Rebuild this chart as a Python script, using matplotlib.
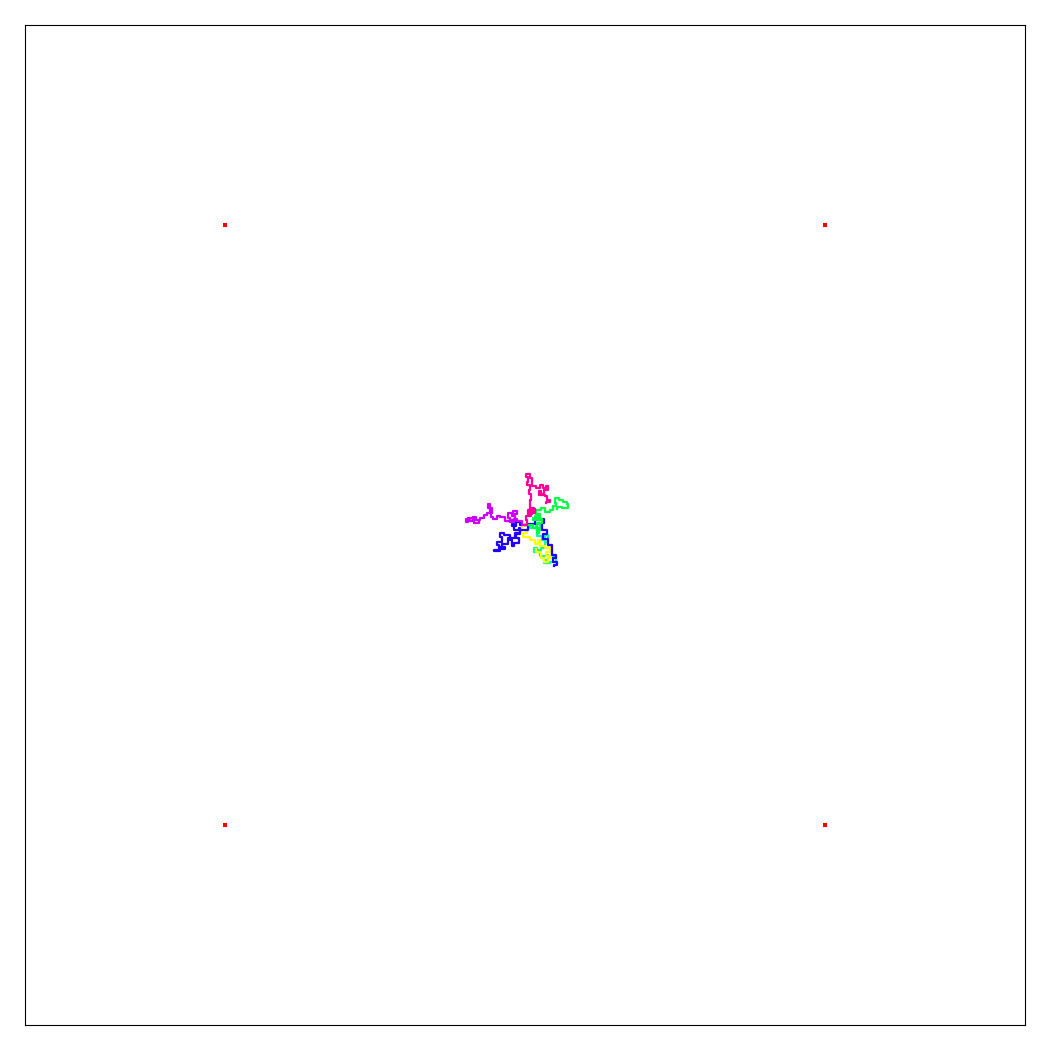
import matplotlib
matplotlib.use("Agg")
import matplotlib.pyplot as plt

# four fixed red points
points_x = [-300, 300, -300, 300]
points_y = [300, 300, -300, -300]

# walks (waypoints, lattice units)
walk_pink = [(0, 0), (2, 5), (1, 9), (5, 11), (3, 15), (8, 16), (10, 12), (6, 9), (5, 17), (9, 14), (7, 11),
             (5, 25), (6, 31), (4, 35), (5, 40), (2, 43), (3, 48), (1, 51), (5, 47), (7, 39), (11, 37),
             (15, 40), (18, 37), (21, 39), (23, 35), (19, 31), (16, 34), (14, 30), (20, 29), (22, 25),
             (25, 23), (21, 22)]
walk_purple = [(0, 0), (-3, 4), (-8, 6), (-11, 3), (-15, 7), (-17, 12), (-12, 14), (-8, 11), (-13, 9),
               (-10, 5), (-14, 4), (-20, 8), (-25, 9), (-28, 6), (-32, 8), (-34, 13), (-35, 21), (-37, 17),
               (-33, 12), (-38, 10), (-41, 7), (-45, 5), (-49, 8), (-52, 4), (-55, 6), (-59, 3), (-57, 7),
               (-51, 2), (-46, 3)]
walk_blue = [(0, 0), (-5, 3), (-9, -1), (-13, 1), (-11, -5), (-6, -3), (-5, -9), (-9, -13), (-6, -18),
             (-11, -21), (-13, -15), (-15, -10), (-21, -8), (-25, -12), (-23, -17), (-28, -20), (-26, -25),
             (-31, -26), (-25, -22), (-20, -24), (-23, -19), (-17, -13), (-10, -8), (-5, -5), (3, 1), (10, 5),
             (15, 6), (19, 2), (17, -5), (22, -9), (18, -14), (23, -20), (27, -30), (31, -33), (28, -37),
             (32, -40), (29, -41)]
walk_green = [(0, 0), (8, -3), (14, -8), (12, 2), (17, 6), (13, 9), (10, 5), (8, 7), (12, 5), (15, 11),
              (11, 15), (16, 17), (20, 13), (25, 15), (28, 19), (31, 22), (30, 27), (34, 25), (38, 23),
              (42, 21), (43, 17), (37, 18), (32, 16)]
walk_teal = [(0, 0), (5, -3), (11, 1), (15, -5), (12, -11), (17, -15), (20, -10), (23, -17), (20, -23),
             (16, -25), (12, -23), (9, -27), (15, -31), (21, -30), (23, -35), (19, -38), (25, -37),
             (31, -32), (27, -25)]
walk_yellow = [(0, 0), (-3, -5), (2, -8), (-2, -12), (5, -15), (10, -19), (13, -15), (15, -21), (20, -23),
               (23, -20), (25, -27), (21, -31), (26, -33), (23, -37), (19, -33), (16, -27), (11, -24)]

walks = [walk_teal, walk_yellow, walk_blue, walk_purple, walk_green, walk_pink]
colors = ['#00ff99', '#ffff00', '#2200ff', '#cc00ff', '#00ff44', '#ff0099']

fig = plt.figure(figsize=(10.5, 10.5), dpi=100)
ax = fig.add_axes([25 / 1050, 25 / 1050, 1000 / 1050, 1000 / 1050])

for w, c in zip(walks, colors):
    xs = [p[0] for p in w]
    ys = [p[1] for p in w]
    ax.plot(xs, ys, color=c, lw=1.6, drawstyle='steps-post')

ax.plot(points_x, points_y, 's', color='red', ms=3.5, mew=0)

ax.set_xlim(-500, 500)
ax.set_ylim(-500, 500)
ax.set_xticks([])
ax.set_yticks([])
for s in ax.spines.values():
    s.set_linewidth(0.8)

fig.savefig('out.png', dpi=100)
